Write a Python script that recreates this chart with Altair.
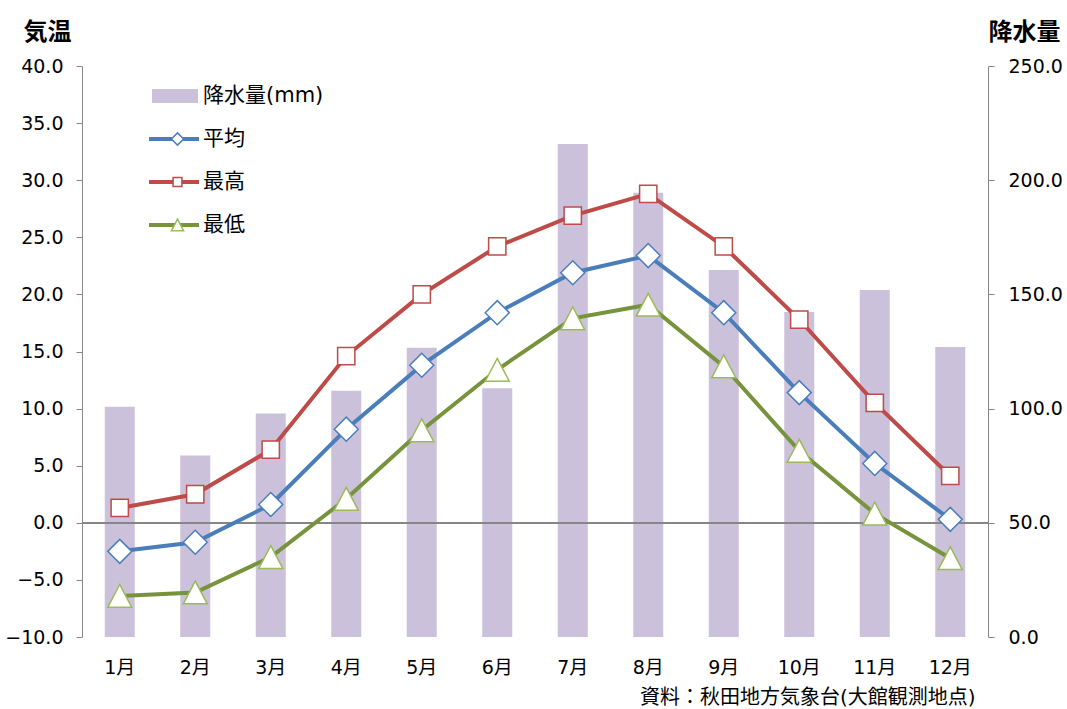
import altair as alt
import pandas as pd

months = ["1月", "2月", "3月", "4月", "5月", "6月", "7月", "8月", "9月", "10月", "11月", "12月"]
precip = [100.8, 79.5, 97.9, 107.8, 126.6, 108.9, 215.9, 194.5, 160.7, 142.3, 151.9, 127.0]
t_avg = [-2.5, -1.7, 1.6, 8.2, 13.8, 18.4, 21.9, 23.4, 18.4, 11.4, 5.2, 0.3]
t_max = [1.3, 2.5, 6.4, 14.6, 20.0, 24.2, 26.9, 28.8, 24.2, 17.8, 10.5, 4.1]
t_min = [-6.4, -6.1, -3.0, 2.1, 8.1, 13.4, 17.9, 19.1, 13.7, 6.3, 0.8, -3.1]

series_names = ["平均", "最高", "最低"]
marker_keys = ["平均_m", "最高_m", "最低_m"]
bar_label = "降水量(mm)"
source_text = "資料：秋田地方気象台(大館観測地点)"

line_colors = ["#4A7EBB", "#BE4B48", "#77933C"]
marker_colors = ["#4A7EBB", "#BE4B48", "#9BBB59"]
bar_color = "#CCC1DA"
axis_gray = "#868686"
FONT = "'DejaVu Sans', 'Noto Sans CJK JP', sans-serif"

df_bar = pd.DataFrame({"month": months, "precip": precip, "item": [bar_label] * len(months)})
rows = []
for name, key, vals in zip(series_names, marker_keys, [t_avg, t_max, t_min]):
    for m, v in zip(months, vals):
        rows.append({"month": m, "temp": v, "series": name, "marker": key})
df_t = pd.DataFrame(rows)

x_enc = alt.X(
    "month:N",
    sort=months,
    scale=alt.Scale(paddingInner=0.6, paddingOuter=0.3),
    axis=alt.Axis(
        title=source_text,
        domain=False,
        ticks=False,
        labelAngle=0,
        labelPadding=21,
        labelFontSize=19,
        labelFont=FONT,
        labelColor="#000000",
        titleFont=FONT,
        titleFontSize=20,
        titleFontWeight="normal",
        titleColor="#000000",
        titleAnchor="end",
        titleAlign="right",
        titleBaseline="middle",
        titleX=893,
        titleY=60,
    ),
)

bars = alt.Chart(df_bar).mark_bar(size=30).encode(
    x=x_enc,
    y=alt.Y(
        "precip:Q",
        scale=alt.Scale(domain=[0, 250], nice=False, zero=True),
        axis=alt.Axis(
            orient="right",
            values=[0, 50, 100, 150, 200, 250],
            format=".1f",
            grid=False,
            tickSize=6,
            labelPadding=14,
            labelFontSize=19,
            labelFont=FONT,
            labelColor="#000000",
            domainColor=axis_gray,
            tickColor=axis_gray,
            title="降水量",
            titleAngle=0,
            titleX=36,
            titleY=-34,
            titleAlign="center",
            titleBaseline="middle",
            titleFont=FONT,
            titleFontSize=24,
            titleFontWeight="bold",
            titleColor="#000000",
        ),
    ),
    fill=alt.Fill(
        "item:N",
        scale=alt.Scale(domain=[bar_label], range=[bar_color]),
        legend=alt.Legend(
            title=None,
            orient="none",
            legendX=70,
            legendY=16,
            padding=0,
            symbolType="M-1,-0.3H1V0.3H-1Z",
            symbolSize=2116,
            symbolStrokeWidth=0,
            clipHeight=28,
            labelOffset=5,
            labelFontSize=21,
            labelFont=FONT,
            labelColor="#000000",
        ),
    ),
)

y_temp = alt.Y(
    "temp:Q",
    scale=alt.Scale(domain=[-10, 40], nice=False, zero=False),
    axis=alt.Axis(
        orient="left",
        values=list(range(-10, 41, 5)),
        format=".1f",
        grid=False,
        tickSize=6,
        labelPadding=13,
        labelFontSize=19,
        labelFont=FONT,
        labelColor="#000000",
        domainColor=axis_gray,
        tickColor=axis_gray,
        title="気温",
        titleAngle=0,
        titleX=-35,
        titleY=-34,
        titleAlign="center",
        titleBaseline="middle",
        titleFont=FONT,
        titleFontSize=24,
        titleFontWeight="bold",
        titleColor="#000000",
    ),
)

zero_rule = alt.Chart(df_t).mark_rule(color=axis_gray, strokeWidth=1).encode(
    y=alt.datum(0)
)

lines = alt.Chart(df_t).mark_line(strokeWidth=4).encode(
    x=x_enc,
    y=y_temp,
    stroke=alt.Stroke(
        "series:N",
        scale=alt.Scale(domain=series_names, range=line_colors),
        legend=alt.Legend(
            title=None,
            orient="none",
            legendX=65,
            legendY=59,
            padding=0,
            symbolType="stroke",
            symbolSize=2500,
            symbolStrokeWidth=4,
            clipHeight=28,
            rowPadding=15,
            labelOffset=2,
            labelFontSize=21,
            labelFont=FONT,
            labelColor="#000000",
        ),
    ),
)

legend_markers = alt.Legend(
    title=None,
    orient="none",
    legendX=85,
    legendY=59,
    padding=0,
    symbolSize=150,
    symbolStrokeWidth=1.5,
    symbolFillColor="white",
    clipHeight=28,
    rowPadding=15,
    labelExpr="''",
    labelFontSize=21,
)

shape_paths = ["diamond", "M-0.72,-0.72H0.72V0.72H-0.72Z", "M0,-0.95L1,0.95H-1Z"]

points = alt.Chart(df_t).mark_point(
    filled=False, fill="white", fillOpacity=1, opacity=1, strokeWidth=1.5, size=576
).encode(
    x=x_enc,
    y=y_temp,
    color=alt.Color(
        "marker:N",
        scale=alt.Scale(domain=marker_keys, range=marker_colors),
        legend=legend_markers,
    ),
    shape=alt.Shape(
        "marker:N",
        scale=alt.Scale(domain=marker_keys, range=shape_paths),
        legend=legend_markers,
    ),
)

temp_layer = alt.layer(zero_rule, lines, points)

chart = (
    alt.layer(bars, temp_layer)
    .resolve_scale(y="independent")
    .properties(
        width=906,
        height=571,
        autosize=alt.AutoSizeParams(type="none"),
        padding={"left": 82, "top": 66, "right": 79, "bottom": 72},
        background="white",
    )
    .configure_view(stroke=None)
)

chart.save("out.html", embed_options={"renderer": "svg", "actions": False})
